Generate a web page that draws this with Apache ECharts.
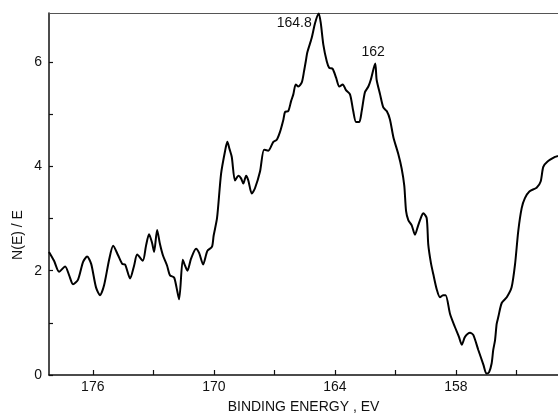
<!DOCTYPE html>
<html>
<head>
<meta charset="utf-8">
<style>
  html, body { margin: 0; padding: 0; background: #fff; }
  #chart { width: 558px; height: 419px; }
</style>
<script src="https://cdn.jsdelivr.net/npm/echarts@6/dist/echarts.min.js"></script>
</head>
<body>
<div id="chart"></div>
<script>
// Photoelectron spectrum, N(E)/E versus binding energy (eV), energy axis runs high -> low.
const bindingEnergy = [
  178.17, 177.92, 177.67, 177.37, 177.17, 176.98, 176.73, 176.48, 176.28, 176.08,
  175.84, 175.64, 175.44, 175.19, 174.99, 174.74, 174.54, 174.40, 174.15, 173.95,
  173.80, 173.52, 173.36, 173.21, 173.06, 172.96, 172.81, 172.67, 172.52, 172.32,
  172.17, 171.97, 171.85, 171.72, 171.54, 171.43, 171.31, 171.13, 170.88, 170.73,
  170.53, 170.32, 170.09, 170.01, 169.84, 169.64, 169.44, 169.33, 169.22, 169.11,
  168.95, 168.78, 168.65, 168.54, 168.40, 168.29, 168.12, 167.96, 167.71, 167.51,
  167.30, 167.05, 166.88, 166.72, 166.55, 166.47, 166.31, 166.17, 166.06, 165.94,
  165.81, 165.64, 165.53, 165.43, 165.37, 165.15, 164.98, 164.80, 164.70, 164.57,
  164.40, 164.28, 164.11, 163.94, 163.78, 163.61, 163.45, 163.25, 163.09, 162.95,
  162.79, 162.67, 162.51, 162.34, 162.22, 162.00, 161.93, 161.76, 161.60, 161.43,
  161.27, 161.10, 160.86, 160.69, 160.56, 160.47, 160.36, 160.19, 160.03, 159.87,
  159.70, 159.62, 159.45, 159.37, 159.24, 159.12, 158.95, 158.79, 158.64, 158.51,
  158.29, 158.05, 157.85, 157.71, 157.55, 157.30, 157.14, 156.89, 156.64, 156.49,
  156.36, 156.23, 156.15, 156.06, 155.98, 155.90, 155.73, 155.48, 155.24, 155.07,
  154.91, 154.74, 154.58, 154.36, 154.00, 153.80, 153.67, 153.47, 153.09, 152.94
];

const intensity = [
  2.36, 2.19, 1.98, 2.08, 1.91, 1.74, 1.83, 2.17, 2.27, 2.13,
  1.68, 1.53, 1.72, 2.21, 2.48, 2.29, 2.13, 2.12, 1.85, 2.10,
  2.31, 2.19, 2.48, 2.70, 2.53, 2.36, 2.78, 2.51, 2.29, 2.10,
  1.91, 1.87, 1.68, 1.45, 2.21, 2.10, 2.00, 2.23, 2.42, 2.34,
  2.12, 2.38, 2.46, 2.67, 3.01, 3.86, 4.30, 4.47, 4.33, 4.18,
  3.73, 3.82, 3.77, 3.67, 3.82, 3.73, 3.48, 3.58, 3.90, 4.32,
  4.30, 4.47, 4.51, 4.66, 4.90, 5.04, 5.06, 5.25, 5.38, 5.57,
  5.53, 5.61, 5.82, 6.04, 6.18, 6.46, 6.75, 6.93, 6.75, 6.33,
  6.01, 5.89, 5.87, 5.70, 5.53, 5.57, 5.46, 5.38, 5.06, 4.85,
  4.85, 5.06, 5.42, 5.53, 5.66, 5.97, 5.66, 5.38, 5.13, 5.06,
  4.90, 4.56, 4.24, 3.96, 3.63, 3.14, 2.97, 2.87, 2.69, 2.87,
  3.05, 3.10, 3.01, 2.50, 2.15, 1.93, 1.64, 1.49, 1.53, 1.53,
  1.17, 0.92, 0.73, 0.58, 0.73, 0.81, 0.77, 0.48, 0.20, 0.03,
  0.05, 0.22, 0.48, 0.67, 0.98, 1.11, 1.38, 1.49, 1.68, 2.12,
  2.76, 3.20, 3.39, 3.52, 3.59, 3.71, 3.99, 4.09, 4.18, 4.20
];

// Axis ticks and labels
const xTickValues = [155, 158, 161, 164, 167, 170, 173, 176];
const xLabelValues = [158, 164, 170, 176];
const yTickValues = [0, 1, 2, 3, 4, 5, 6];
const yLabelValues = [0, 2, 4, 6];

// Annotated peak positions (eV)
const peakEnergies = [164.8, 162];

const FONT = '"Liberation Sans", Arial, sans-serif';
const INK = '#111';

const points = bindingEnergy.map((e, i) => [e, intensity[i]]);
const peakMarks = peakEnergies.map((e, k) => {
  const i = bindingEnergy.indexOf(e);
  const base = { coord: [e, intensity[i]], value: String(e) };
  if (k === 0) {
    base.label = { position: 'left', distance: 7, offset: [0, 10] };
  } else {
    base.label = { position: 'top', distance: 4, offset: [-2, 0] };
  }
  return base;
});

const chart = echarts.init(document.getElementById('chart'), null, { renderer: 'canvas' });
chart.setOption({
  animation: false,
  backgroundColor: '#fff',
  grid: { left: 49, right: 0, top: 13, bottom: 40.5, containLabel: false },
  xAxis: [
    {
      type: 'value',
      inverse: true,
      min: 152.94,
      max: 178.17,
      position: 'bottom',
      name: 'BINDING ENERGY , EV',
      nameLocation: 'middle',
      nameGap: 25,
      nameTextStyle: { fontFamily: FONT, fontSize: 14, color: INK },
      axisLine: { show: true, lineStyle: { color: INK, width: 1.5 } },
      axisTick: { show: true, inside: true, length: 5, customValues: xTickValues, lineStyle: { color: INK, width: 1.2 } },
      axisLabel: { show: true, customValues: xLabelValues, fontFamily: FONT, fontSize: 14, color: INK, margin: 5 },
      splitLine: { show: false }
    },
    {
      type: 'value',
      inverse: true,
      min: 152.94,
      max: 178.17,
      position: 'top',
      axisLine: { show: true, lineStyle: { color: '#555', width: 1 } },
      axisTick: { show: false },
      axisLabel: { show: false },
      splitLine: { show: false }
    }
  ],
  yAxis: {
    type: 'value',
    min: 0,
    max: 6.94,
    axisLine: { show: true, lineStyle: { color: INK, width: 1.5 } },
    axisTick: { show: true, inside: true, length: 4, customValues: yTickValues, lineStyle: { color: INK, width: 1.2 } },
    axisLabel: { show: true, customValues: yLabelValues, fontFamily: FONT, fontSize: 14, color: INK, margin: 7 },
    splitLine: { show: false }
  },
  graphic: [
    {
      type: 'text',
      x: 18,
      y: 235,
      rotation: Math.PI / 2,
      style: { text: 'N(E) / E', fontFamily: FONT, fontSize: 14, fill: INK, align: 'center', verticalAlign: 'middle' }
    }
  ],
  series: [
    {
      type: 'line',
      xAxisIndex: 0,
      data: points,
      showSymbol: false,
      symbol: 'none',
      smooth: 0.25,
      clip: false,
      lineStyle: { color: '#000', width: 2 },
      markPoint: {
        symbol: 'circle',
        symbolSize: 0,
        label: { show: true, formatter: '{c}', fontFamily: FONT, fontSize: 14, color: INK },
        data: peakMarks
      }
    }
  ]
});
</script>
</body>
</html>
